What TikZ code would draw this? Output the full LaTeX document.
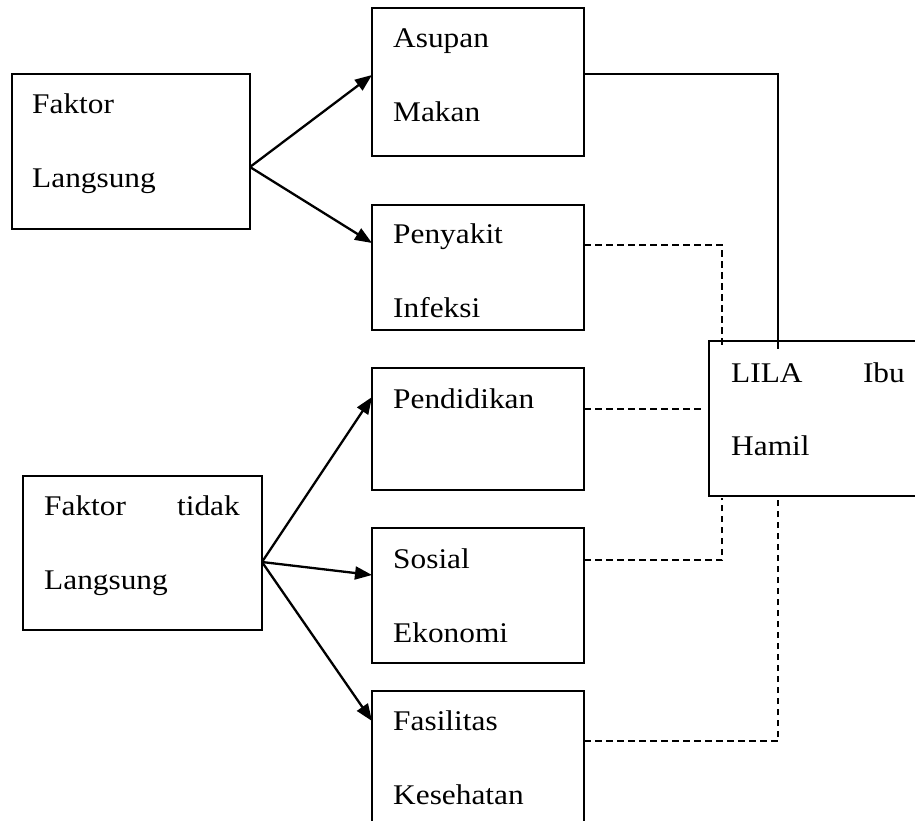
\documentclass[tikz,border=0pt]{standalone}
\usepackage{fontspec}
\setmainfont[FakeStretch=1.1]{Liberation Serif}
\usetikzlibrary{arrows.meta}
\begin{document}
\begin{tikzpicture}[x=1pt,y=-1pt,
  box/.style={draw, line width=2pt, inner sep=0pt, outer sep=0pt},
  txt/.style={inner sep=0pt, font=\fontsize{28.5}{34}\selectfont},
  arr/.style={line width=2.3pt, -{Triangle[length=17pt,width=13pt]}},
  solidline/.style={line width=2pt},
  dashline/.style={line width=1.8pt, dash pattern=on 6.5pt off 4.5pt}]
\useasboundingbox (0,0) rectangle (915,821);
\clip (0,0) rectangle (915,821);
\fill[white] (0,0) rectangle (915,821);
% boxes
\node[box, minimum width=238pt, minimum height=155pt] (fl) at (131,151.5) {};
\node[box, minimum width=212pt, minimum height=148pt] (asupan) at (478,82) {};
\node[box, minimum width=212pt, minimum height=125pt] (penyakit) at (478,267.5) {};
\node[box, minimum width=212pt, minimum height=122pt] (pendidikan) at (478,429) {};
\node[box, minimum width=212pt, minimum height=135pt] (sosial) at (478,595.5) {};
\node[box, minimum width=212pt, minimum height=149pt] (fasilitas) at (478,765.5) {};
\node[box, minimum width=239pt, minimum height=154pt] (ftl) at (142.5,553) {};
\node[box, minimum width=226pt, minimum height=155pt] (lila) at (822,418.5) {};
% texts
\node[txt, anchor=base west] (t1) at (32,114) {Faktor};
\node[txt, anchor=base west] (t2) at (32,188) {Langsung};
\node[txt, anchor=base west] (t3) at (393,48) {Asupan};
\node[txt, anchor=base west] (t4) at (393,122) {Makan};
\node[txt, anchor=base west] (t5) at (393,243) {Penyakit};
\node[txt, anchor=base west] (t6) at (393,317) {Infeksi};
\node[txt, anchor=base west] (t7) at (393,408) {Pendidikan};
\node[txt, anchor=base west] (t8) at (393,568) {Sosial};
\node[txt, anchor=base west] (t9) at (393,642) {Ekonomi};
\node[txt, anchor=base west] (t10) at (393,730) {Fasilitas};
\node[txt, anchor=base west] (t11) at (393,804) {Kesehatan};
\node[txt, anchor=base west] (t12) at (44,515) {Faktor};
\node[txt, anchor=base east] (t13) at (240,515) {tidak};
\node[txt, anchor=base west] (t14) at (44,589) {Langsung};
\node[txt, anchor=base west] (t15) at (731,382) {LILA};
\node[txt, anchor=base east] (t16) at (905,382) {Ibu};
\node[txt, anchor=base west] (t17) at (731,455) {Hamil};
% arrow origins
\coordinate (flo) at (fl.east |- 0,167);
\coordinate (ftlo) at (ftl.east |- 0,562);
\draw[arr] (flo) -- (asupan.west |- 0,75);
\draw[arr] (flo) -- (penyakit.west |- 0,243);
\draw[arr] (ftlo) -- (pendidikan.west |- 0,397);
\draw[arr] (ftlo) -- (sosial.west |- 0,575);
\draw[arr] (ftlo) -- (fasilitas.west |- 0,721);
% connectors to LILA
\coordinate (c1) at (778,74);
\coordinate (c1e) at (778,349);
\draw[solidline] (asupan.east |- c1) -- (c1) -- (c1e);
\coordinate (c2) at (722,245);
\coordinate (c2e) at (722,345);
\draw[dashline] (penyakit.east |- c2) -- (c2) -- (c2e);
\coordinate (c3) at (703,409);
\draw[dashline] (pendidikan.east |- c3) -- (c3);
\coordinate (c4) at (722,560);
\coordinate (c4e) at (722,498);
\draw[dashline] (sosial.east |- c4) -- (c4) -- (c4e);
\coordinate (c5) at (778,741);
\coordinate (c5e) at (778,498);
\draw[dashline] (fasilitas.east |- c5) -- (c5) -- (c5e);
\end{tikzpicture}
\end{document}
